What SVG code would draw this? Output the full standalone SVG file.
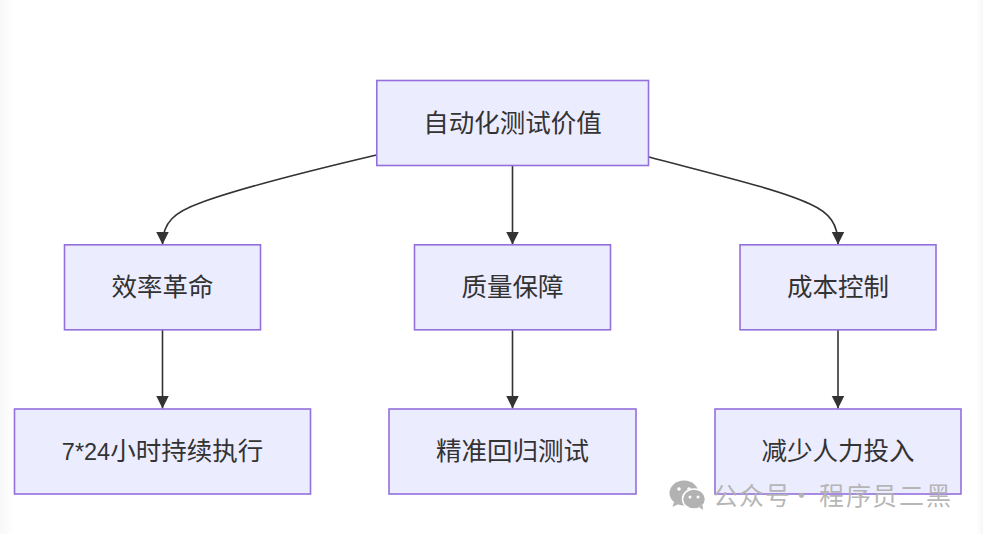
<svg xmlns="http://www.w3.org/2000/svg" width="983" height="534" viewBox="0 0 983 534">
<style>
.n{fill:#ececff;stroke:#9370db;stroke-width:1.6}
.t{font-family:"Liberation Sans","Noto Sans CJK SC",sans-serif;font-size:25.5px;fill:#333;text-anchor:middle}
.e{fill:none;stroke:#333;stroke-width:1.6;marker-end:url(#a)}
.w{font-family:"Noto Sans CJK SC","Liberation Sans",sans-serif;font-size:25px;fill:#b2b2b2;fill-opacity:.95}
</style>
<defs>
<marker id="a" markerUnits="userSpaceOnUse" markerWidth="14" markerHeight="14" refX="13" refY="6.500" orient="auto"><path d="M0 0L13 6.500L0 13Z" fill="#333"/></marker>
<linearGradient id="l"><stop offset="0" stop-color="#f8f8f8"/><stop offset="1" stop-color="#fff"/></linearGradient>
<linearGradient id="r"><stop offset="0" stop-color="#fff"/><stop offset="1" stop-color="#f6f6f6"/></linearGradient>
</defs>
<rect width="983" height="534" fill="#fff"/>
<rect width="14" height="534" fill="url(#l)"/>
<rect x="976" width="7" height="534" fill="url(#r)"/>
<g id="connectors">
<path class="e" d="M376.500 155C300 173 240 188 200 203C175 212 162.500 222 162.500 244.500"/>
<path class="e" d="M512.500 165.500V244.500"/>
<path class="e" d="M649 157C725 177 780 190 810 204C830 213 838 224 838 244.500"/>
<path class="e" d="M162.500 330V408.500"/>
<path class="e" d="M512.500 330V408.500"/>
<path class="e" d="M838 330V408.500"/>
</g>
<g id="n0"><rect class="n" x="376.800" y="80.500" width="271.700" height="85"/><text class="t" x="512.500" y="132">自动化测试价值</text></g>
<g id="n1"><rect class="n" x="64.500" y="244.800" width="196" height="85"/><text class="t" x="162.500" y="296">效率革命</text></g>
<g id="n2"><rect class="n" x="414.500" y="244.800" width="196" height="85"/><text class="t" x="512.500" y="296">质量保障</text></g>
<g id="n3"><rect class="n" x="740" y="244.800" width="196" height="85"/><text class="t" x="838" y="296">成本控制</text></g>
<g id="n4"><rect class="n" x="14.500" y="409" width="296" height="85"/><text class="t" x="162.500" y="460"><tspan font-size="23.5">7*24</tspan>小时持续执行</text></g>
<g id="n5"><rect class="n" x="389" y="409" width="247" height="85"/><text class="t" x="512.500" y="460">精准回归测试</text></g>
<g id="n6"><rect class="n" x="715" y="409" width="246" height="85"/><text class="t" x="838" y="460">减少人力投入</text></g>
<g id="watermark">
<ellipse cx="684" cy="493" rx="14.500" ry="12.500" fill="#b2b2b2"/>
<path d="M674 502l-1.500 5l6-3Z" fill="#b2b2b2"/>
<ellipse cx="694" cy="499" rx="11.500" ry="10" fill="#b2b2b2" stroke="#fff" stroke-width="1.500"/>
<path d="M699 507l4 3l-.5-5Z" fill="#b2b2b2"/>
<circle cx="679" cy="489" r="1.800" fill="#fff"/><circle cx="689" cy="489" r="1.800" fill="#fff"/>
<circle cx="690" cy="497" r="1.500" fill="#fff"/><circle cx="698" cy="497" r="1.500" fill="#fff"/>
<text class="w" x="713 739 765 789 819 846 872 899 926" y="505">公众号・程序员二黑</text>
</g>
</svg>
